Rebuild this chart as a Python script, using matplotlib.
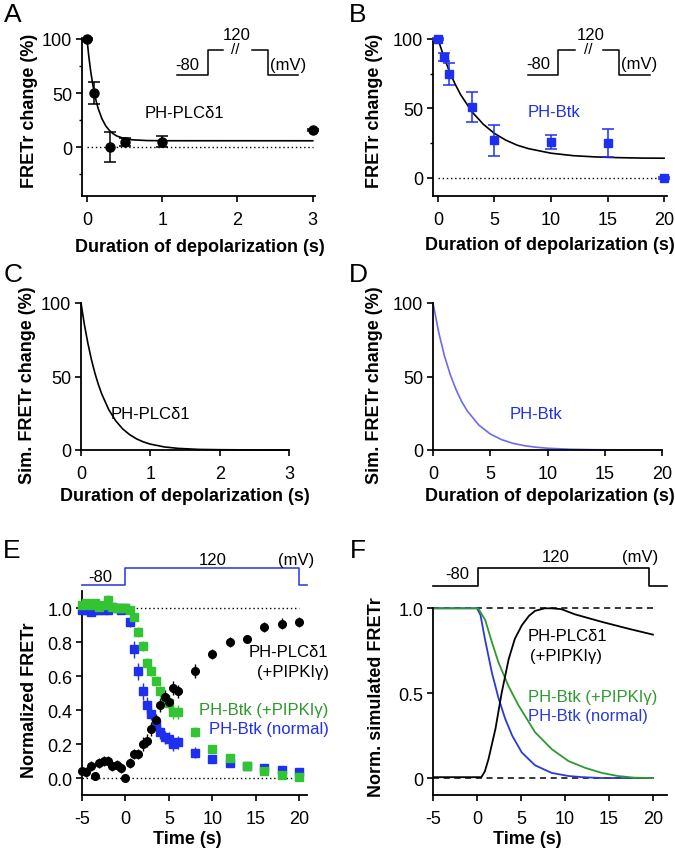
import matplotlib
matplotlib.use("Agg")
import matplotlib.pyplot as plt
from matplotlib.ticker import FixedLocator

plt.rcParams['font.family'] = ['Liberation Sans', 'DejaVu Sans']
plt.rcParams['axes.unicode_minus'] = False

# ---- data ----
# A: PH-PLCd1, FRETr change vs duration of depolarization
A_t = [0, 0.1, 0.3, 0.5, 1, 3]
A_y = [100, 50, 0, 5, 5, 16]
A_err = [1, 10, 14, 4, 5, 1]
A_fit_t = [0, 0.025, 0.05, 0.075, 0.1, 0.125, 0.15, 0.2, 0.25, 0.3, 0.35, 0.4, 0.5, 0.6, 0.8, 1.0, 3.0]
A_fit_y = [100, 83.6, 70, 58.8, 49.5, 41.9, 35.6, 26.2, 19.7, 15.4, 12.4, 10.3, 8.0, 6.9, 6.2, 6.05, 6.0]

# B: PH-Btk
B_t = [0, 0.5, 1, 3, 5, 10, 15, 20]
B_y = [100, 87, 75, 51, 27, 26, 25, 0]
B_err = [1, 3, 8, 11, 11, 5, 10, 1]
B_fit_t = [0, 0.5, 1, 1.5, 2, 3, 4, 5, 6, 7, 8, 10, 12, 14, 16, 18, 20]
B_fit_y = [100, 87.6, 76.9, 67.8, 60, 47.7, 38.7, 32, 27.2, 23.6, 21.1, 17.8, 16, 15.1, 14.6, 14.3, 14.2]

# C / D: simulated curves
C_t = [0, 0.05, 0.1, 0.15, 0.2, 0.25, 0.3, 0.4, 0.5, 0.6, 0.7, 0.8, 0.9, 1.0, 1.2, 1.4, 1.7, 2.0, 2.5, 3.0]
C_y = [100, 85, 72.4, 61.6, 52.4, 44.6, 38, 27.5, 19.9, 14.4, 10.5, 7.6, 5.5, 4.0, 2.1, 1.1, 0.4, 0.2, 0.03, 0]
D_t = [0, 0.5, 1, 1.5, 2, 2.5, 3, 4, 5, 6, 7, 8, 9, 10, 12, 14, 16, 20]
D_y = [100, 80, 64, 51.5, 41.3, 33, 26.5, 17, 10.9, 7, 4.5, 2.9, 1.9, 1.2, 0.5, 0.2, 0.1, 0]

# E: time courses
E_t = [-5, -4.5, -4, -3.5, -3, -2.5, -2, -1.5, -1, -0.5, 0,
       0.5, 1, 1.5, 2, 2.5, 3, 3.5, 4, 4.5, 5, 5.5, 6,
       8, 10, 12, 14, 16, 18, 20]
E_plc = [0.04, 0.035, 0.07, 0.01, 0.09, 0.10, 0.10, 0.07, 0.075, 0.06, 0.0,
         0.09, 0.14, 0.14, 0.20, 0.22, 0.29, 0.34, 0.43, 0.48, 0.45, 0.53, 0.51,
         0.63, 0.73, 0.80, 0.82, 0.89, 0.91, 0.92]
E_plc_err = [0.02, 0.03, 0.03, 0.02, 0.03, 0.03, 0.03, 0.03, 0.03, 0.03, 0.01,
             0.03, 0.03, 0.03, 0.04, 0.04, 0.04, 0.04, 0.04, 0.04, 0.04, 0.04, 0.04,
             0.04, 0.03, 0.03, 0.02, 0.03, 0.03, 0.03]
E_btk_pip = [1.02, 1.03, 1.02, 1.03, 1.01, 1.02, 1.05, 1.01, 1.00, 1.00, 1.00,
             0.99, 0.95, 0.86, 0.78, 0.68, 0.63, 0.57, 0.51, 0.46, 0.44, 0.39, 0.39,
             0.27, 0.17, 0.12, 0.07, 0.04, 0.02, 0.005]
E_btk_pip_err = [0.02, 0.02, 0.02, 0.02, 0.02, 0.02, 0.03, 0.02, 0.02, 0.02, 0.02,
                 0.02, 0.02, 0.03, 0.03, 0.03, 0.03, 0.03, 0.03, 0.04, 0.04, 0.04, 0.04,
                 0.03, 0.02, 0.02, 0.02, 0.02, 0.02, 0.02]
E_btk = [0.99, 0.99, 0.98, 0.99, 0.99, 0.99, 0.99, 1.01, 1.00, 0.99, 1.00,
         0.92, 0.76, 0.63, 0.51, 0.43, 0.38, 0.32, 0.27, 0.24, 0.23, 0.20, 0.21,
         0.15, 0.11, 0.09, 0.07, 0.06, 0.045, 0.035]
E_btk_err = [0.01, 0.01, 0.01, 0.01, 0.01, 0.01, 0.01, 0.01, 0.01, 0.01, 0.01,
             0.03, 0.05, 0.05, 0.05, 0.05, 0.04, 0.04, 0.04, 0.04, 0.04, 0.04, 0.04,
             0.03, 0.02, 0.02, 0.02, 0.02, 0.02, 0.02]
E_prot_t = [-5, 0, 0, 20, 20, 20.9]
E_prot_y = [1.14, 1.14, 1.235, 1.235, 1.14, 1.14]

# F: simulated time courses
F_plc_t = [-5, 0.5, 0.9, 1.3, 2.1, 2.8, 3.6, 4.3, 5.1, 5.9, 6.6, 7.7, 8.5, 9.6, 11.1, 14.2, 17.2, 20]
F_plc_y = [0.005, 0.005, 0.04, 0.11, 0.29, 0.5, 0.70, 0.82, 0.90, 0.955, 0.985, 1.0, 1.0, 0.995, 0.965, 0.92, 0.88, 0.845]
F_btk_t = [-5, 0, 0.4, 0.9, 1.7, 2.45, 3.2, 4.0, 5.1, 6.6, 8.5, 10.4, 12, 14.2, 20]
F_btk_y = [1, 1, 0.96, 0.82, 0.62, 0.47, 0.35, 0.25, 0.15, 0.075, 0.03, 0.012, 0.005, 0, 0]
F_pip_t = [-5, 0, 0.2, 0.94, 1.7, 2.45, 3.6, 4.7, 6.6, 8.5, 10.4, 12.3, 14.2, 16, 17.9, 20]
F_pip_y = [1, 1, 0.995, 0.93, 0.80, 0.68, 0.54, 0.43, 0.27, 0.17, 0.10, 0.06, 0.03, 0.012, 0.002, 0]
F_prot_t = [-5, 0.1, 0.1, 19.6, 19.6, 21.6]
F_prot_y = [1.13, 1.13, 1.235, 1.235, 1.13, 1.13]

BLUE = '#1f2ff0'
GREEN = '#33c433'
GREEN_TXT = '#2a9a2a'
LIGHTBLUE = '#6b6bf2'

W, H = 675, 853
fig = plt.figure(figsize=(6.75, 8.53), dpi=100)


def add_ax(box):
    l, t, r, b = box
    return fig.add_axes([l / W, 1 - b / H, (r - l) / W, (b - t) / H])


def style(ax):
    ax.spines['top'].set_visible(False)
    ax.spines['right'].set_visible(False)
    ax.spines['left'].set_linewidth(1.3)
    ax.spines['bottom'].set_linewidth(1.3)
    ax.tick_params(direction='out', length=4, width=1.2, labelsize=13, pad=3)
    ax.tick_params(axis='x', pad=7)
    ax.tick_params(which='minor', length=2.5, width=1.0)


def labels(ax, box, xlab, xpos, ylab, ypos):
    l, t, r, b = box
    ax.set_xlabel(xlab, fontsize=13, fontweight='bold')
    ax.set_ylabel(ylab, fontsize=13, fontweight='bold')
    ax.xaxis.set_label_coords((xpos[0] - l) / (r - l), (b - xpos[1]) / (b - t))
    ax.yaxis.set_label_coords((ypos[0] - l) / (r - l), (b - ypos[1]) / (b - t))
    ax.xaxis.label.set_va('center')
    ax.yaxis.label.set_va('center')


def noclip(container):
    for art in container.get_children():
        art.set_clip_on(False)


def step_inset(ax, xs, ylo, yhi, brk, txt_x, fs=12):
    # xs: low start, rise, break start, break end, fall, low end
    x0, x1, x2, x3, x4, x5 = xs
    kw = dict(color='k', lw=1.1, clip_on=False)
    ax.plot([x0, x1, x1, x2], [ylo, ylo, yhi, yhi], **kw)
    ax.plot([x3, x4, x4, x5], [yhi, yhi, ylo, ylo], **kw)
    ax.text(brk, yhi + (yhi - ylo) * 0.05, '//', ha='center', va='center', fontsize=11, clip_on=False)
    ax.text(txt_x[0], yhi + (yhi - ylo) * 0.62, '120', ha='center', va='center', fontsize=fs, clip_on=False)
    ax.text(txt_x[1], (ylo + yhi) / 2 - (yhi - ylo) * 0.05, '-80', ha='center', va='center', fontsize=fs)
    ax.text(txt_x[2], (ylo + yhi) / 2 - (yhi - ylo) * 0.05, '(mV)', ha='center', va='center', fontsize=fs)


# ---- A ----
boxA = (82, 40, 315, 197)
axA = add_ax(boxA)
style(axA)
axA.plot([0, 3], [0, 0], ls=(0, (1, 2)), color='k', lw=1)
axA.plot(A_fit_t, A_fit_y, color='k', lw=1.2)
eb = axA.errorbar(A_t, A_y, yerr=A_err, fmt='o', color='k', ms=6.5, capsize=4.5,
                  elinewidth=1.1, capthick=1.1, zorder=3)
noclip(eb)
axA.set_xlim(-0.066, 3.03)
axA.set_ylim(-45, 100)
axA.set_xticks([0, 1, 2, 3])
axA.set_yticks([0, 50, 100])
axA.yaxis.set_minor_locator(FixedLocator([-25, 25, 75]))
step_inset(axA, (1.195, 1.607, 1.806, 2.19, 2.40, 2.80), 66.5, 89.6, 1.965, (1.99, 1.33, 2.67))
axA.text(1.3, 32, 'PH-PLCδ1', ha='center', va='center', fontsize=12)
labels(axA, boxA, 'Duration of depolarization (s)', (200, 247), 'FRETr change (%)', (30, 111))

# ---- B ----
boxB = (433, 40, 667, 197)
axB = add_ax(boxB)
style(axB)
axB.plot([0, 20], [0, 0], ls=(0, (1, 2)), color='k', lw=1)
axB.plot(B_fit_t, B_fit_y, color='k', lw=1.2)
eb = axB.errorbar(B_t, B_y, yerr=B_err, fmt='s', color=BLUE, ms=6, capsize=4.5,
                  elinewidth=1.1, capthick=1.1, zorder=3)
noclip(eb)
axB.set_xlim(-0.44, 20.26)
axB.set_ylim(-13, 100)
axB.set_xticks([0, 5, 10, 15, 20])
axB.set_yticks([0, 50, 100])
axB.yaxis.set_minor_locator(FixedLocator([25, 75]))
step_inset(axB, (7.96, 10.6, 12.1, 14.6, 16.0, 18.8), 74.1, 92.1, 13.3, (13.5, 8.9, 17.8))
axB.text(10.3, 47.5, 'PH-Btk', ha='center', va='center', fontsize=12, color=BLUE)
labels(axB, boxB, 'Duration of depolarization (s)', (550, 245), 'FRETr change (%)', (375, 111))

# ---- C ----
boxC = (81, 304, 289, 451)
axC = add_ax(boxC)
style(axC)
axC.plot(C_t, C_y, color='k', lw=1.2, clip_on=False)
axC.set_xlim(0, 3)
axC.set_ylim(0, 100)
axC.set_xticks([0, 1, 2, 3])
axC.set_yticks([0, 50, 100])
axC.text(1.0, 25, 'PH-PLCδ1', ha='center', va='center', fontsize=12)
labels(axC, boxC, 'Duration of depolarization (s)', (185, 497), 'Sim. FRETr change (%)', (28, 385))

# ---- D ----
boxD = (433, 304, 662, 451)
axD = add_ax(boxD)
style(axD)
axD.plot(D_t, D_y, color=LIGHTBLUE, lw=1.2, clip_on=False)
axD.set_xlim(0, 20)
axD.set_ylim(0, 100)
axD.set_xticks([0, 5, 10, 15, 20])
axD.set_yticks([0, 50, 100])
axD.text(9.0, 25, 'PH-Btk', ha='center', va='center', fontsize=12, color=BLUE)
labels(axD, boxD, 'Duration of depolarization (s)', (550, 497), 'Sim. FRETr change (%)', (375, 385))

# ---- E ----
boxE = (82, 555, 307, 796)
axE = add_ax(boxE)
style(axE)
axE.plot([-5, 20], [1, 1], ls=(0, (1, 2)), color='k', lw=1)
axE.plot([-5, 20], [0, 0], ls=(0, (1, 2)), color='k', lw=1)
for y, err, mk, col in [(E_btk, E_btk_err, 's', BLUE),
                        (E_btk_pip, E_btk_pip_err, 's', GREEN),
                        (E_plc, E_plc_err, 'o', 'k')]:
    eb = axE.errorbar(E_t, y, yerr=err, fmt=mk, color=col, ms=5.5, capsize=0,
                      elinewidth=1.0, zorder=3)
    noclip(eb)
axE.plot(E_prot_t, E_prot_y, color='#3344e0', lw=1.2, clip_on=False)
axE.text(-2.9, 1.185, '-80', ha='center', va='center', fontsize=12)
axE.text(10.1, 1.29, '120', ha='center', va='center', fontsize=12)
axE.text(19.6, 1.29, '(mV)', ha='center', va='center', fontsize=12)
axE.set_xlim(-5, 20.9)
axE.set_ylim(-0.1, 1.32)
axE.spines['left'].set_bounds(-0.1, 1.1)
axE.set_xticks([-5, 0, 5, 10, 15, 20])
axE.set_yticks([0, 0.2, 0.4, 0.6, 0.8, 1.0])
axE.set_yticklabels(['0.0', '0.2', '0.4', '0.6', '0.8', '1.0'])
axE.text(23.4, 0.747, 'PH-PLCδ1', ha='right', va='center', fontsize=12)
axE.text(23.4, 0.63, '(+PIPKIγ)', ha='right', va='center', fontsize=12)
axE.text(23.4, 0.406, 'PH-Btk (+PIPKIγ)', ha='right', va='center', fontsize=12, color=GREEN_TXT)
axE.text(23.4, 0.294, 'PH-Btk (normal)', ha='right', va='center', fontsize=12, color=BLUE)
labels(axE, boxE, 'Time (s)', (187, 840), 'Normalized FRETr', (30, 700))

# ---- F ----
boxF = (433, 555, 667, 796)
axF = add_ax(boxF)
style(axF)
axF.plot([-5, 20], [1, 1], ls=(0, (4, 3)), color='k', lw=1.1)
axF.plot([-5, 20], [0, 0], ls=(0, (4, 3)), color='k', lw=1.1)
axF.plot(F_btk_t, F_btk_y, color='#2a3ad8', lw=1.3)
axF.plot(F_pip_t, F_pip_y, color='#2e9a2e', lw=1.3)
axF.plot(F_plc_t, F_plc_y, color='k', lw=1.3)
axF.plot(F_prot_t, F_prot_y, color='k', lw=1.2, clip_on=False)
axF.text(-2.3, 1.205, '-80', ha='center', va='center', fontsize=12)
axF.text(8.9, 1.305, '120', ha='center', va='center', fontsize=12)
axF.text(18.5, 1.305, '(mV)', ha='center', va='center', fontsize=12)
axF.set_xlim(-5, 21.6)
axF.set_ylim(-0.1, 1.32)
axF.spines['left'].set_bounds(-0.1, 1.0)
axF.set_xticks([-5, 0, 5, 10, 15, 20])
axF.set_yticks([0, 0.5, 1.0])
axF.set_yticklabels(['0', '0.5', '1.0'])
axF.text(5.8, 0.84, 'PH-PLCδ1', ha='left', va='center', fontsize=12)
axF.text(6.0, 0.72, '(+PIPKIγ)', ha='left', va='center', fontsize=12)
axF.text(5.8, 0.48, 'PH-Btk (+PIPKIγ)', ha='left', va='center', fontsize=12, color='#2e9a2e')
axF.text(5.8, 0.37, 'PH-Btk (normal)', ha='left', va='center', fontsize=12, color='#2a3ad8')
labels(axF, boxF, 'Time (s)', (527, 840), 'Norm. simulated FRETr', (377, 697))

# panel letters
for letter, x, y in [('A', 13, 15), ('B', 358, 15), ('C', 13, 275),
                     ('D', 358, 275), ('E', 12, 551), ('F', 358, 551)]:
    fig.text(x / W, 1 - y / H, letter, ha='center', va='center', fontsize=19)

fig.savefig('out.png', dpi=100)
